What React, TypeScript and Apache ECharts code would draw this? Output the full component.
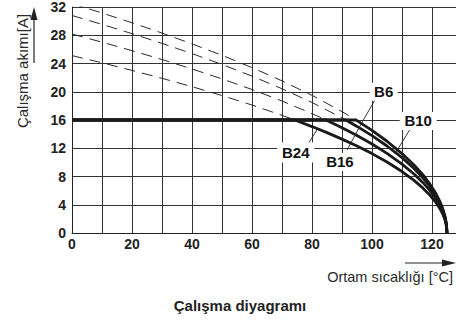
import React, { useEffect, useRef } from "react";
import * as echarts from "echarts";

const FONT = '"Liberation Sans", Arial, Helvetica, sans-serif';

// Rated (capped) operating current [A]
const ratedCurrent = 16;

// Curve B6
const tempB6 = [0, 10, 20, 30, 40, 50, 60, 70, 80, 90, 94.7, 95, 100, 105, 110, 114, 117, 119, 121, 122.5, 123.5, 124.3, 124.8, 125];
const currB6 = [32.48, 31.15, 29.77, 28.31, 26.78, 25.16, 23.42, 21.54, 19.49, 17.19, 16.0, 15.91, 14.53, 12.99, 11.25, 9.64, 8.22, 7.11, 5.81, 4.59, 3.56, 2.43, 1.3, 0];

// Curve B10
const tempB10 = [0, 10, 20, 30, 40, 50, 60, 70, 80, 90, 91.3, 95, 100, 105, 110, 114, 117, 119, 121, 122.5, 123.5, 124.3, 124.8, 125];
const currB10 = [30.8, 29.54, 28.23, 26.85, 25.4, 23.86, 22.21, 20.43, 18.48, 16.3, 16.0, 15.09, 13.78, 12.32, 10.67, 9.14, 7.79, 6.75, 5.51, 4.36, 3.37, 2.31, 1.23, 0];

// Curve B16
const tempB16 = [0, 10, 20, 30, 40, 50, 60, 70, 80, 84.7, 85, 90, 95, 100, 105, 110, 114, 117, 119, 121, 122.5, 123.5, 124.3, 124.8, 125];
const currB16 = [28.17, 27.02, 25.82, 24.56, 23.23, 21.82, 20.32, 18.69, 16.9, 16.0, 15.94, 14.91, 13.8, 12.6, 11.27, 9.76, 8.36, 7.13, 6.17, 5.04, 3.98, 3.09, 2.11, 1.13, 0];

// Curve B24
const tempB24 = [0, 10, 20, 30, 40, 50, 60, 70, 74.3, 80, 85, 90, 95, 100, 105, 110, 114, 117, 119, 121, 122.5, 123.5, 124.3, 124.8, 125];
const currB24 = [25.12, 24.1, 23.02, 21.9, 20.72, 19.46, 18.12, 16.66, 16.0, 15.07, 14.21, 13.29, 12.31, 11.24, 10.05, 8.7, 7.45, 6.35, 5.5, 4.49, 3.55, 2.75, 1.88, 1.0, 0];

const curveNames = ["B6", "B10", "B16", "B24"];
const curveTemps = [tempB6, tempB10, tempB16, tempB24];
const curveCurrents = [currB6, currB10, currB16, currB24];

// Label anchors (data coordinates: [°C, A])
const labelAnchors = [
  [103.9, 20.0],
  [115.4, 15.87],
  [89.3, 10.06],
  [74.6, 11.4],
];
// Leader lines (data coordinates)
const leaderLines = [
  [[101.7, 19.36], [96.7, 15.7]],
  [[112.7, 14.7], [108.0, 11.46]],
  [[91.7, 11.75], [96.7, 15.7]],
  [[78.7, 12.6], [82.0, 14.85]],
];

const xTickLabels = [0, 20, 40, 60, 80, 100, 120];

const labelBoxSizes = [
  [28, 18],
  [37, 18],
  [36, 18],
  [37, 20],
];

export default function App() {
  const ref = useRef<HTMLDivElement>(null);

  useEffect(() => {
    if (!ref.current) return;
    const chart = echarts.init(ref.current, undefined, { renderer: "svg" });

    const series: any[] = [];
    curveNames.forEach((name, k) => {
      const pairs = curveTemps[k].map((t, i) => [t, curveCurrents[k][i]]);
      const dashed = pairs.filter((p) => p[1] >= ratedCurrent);
      const solid = pairs.map((p) => [p[0], Math.min(p[1], ratedCurrent)]);
      series.push({
        name: name + "-ext",
        type: "line",
        data: dashed,
        showSymbol: false,
        symbol: "none",
        z: 2,
        lineStyle: { color: "#2a2a2a", width: 1, type: [11, 7] },
        silent: true,
      });
      series.push({
        name,
        type: "line",
        data: solid,
        showSymbol: false,
        symbol: "none",
        z: 3,
        lineStyle: { color: "#1a1a1a", width: 2.8 },
        silent: true,
        markLine: {
          silent: true,
          symbol: ["none", "none"],
          animation: false,
          label: { show: false },
          lineStyle: { color: "#222", width: 0.9, type: "solid" },
          data: [[{ coord: leaderLines[k][0] }, { coord: leaderLines[k][1] }]],
        },
        markPoint: {
          silent: true,
          animation: false,
          symbol: "rect",
          symbolSize: labelBoxSizes[k],
          itemStyle: { color: "#ffffff" },
          label: {
            show: true,
            position: "inside",
            formatter: "{b}",
            color: "#111",
            fontSize: 15,
            fontWeight: "bold",
            fontFamily: FONT,
          },
          data: [{ name, coord: labelAnchors[k], value: 0 }],
        },
      });
    });

    chart.setOption({
      animation: false,
      backgroundColor: "#ffffff",
      grid: { left: 72, right: 0, top: 6, bottom: 87, containLabel: false },
      xAxis: {
        type: "value",
        min: 0,
        max: 128,
        interval: 10,
        axisLine: { show: true, lineStyle: { color: "#222", width: 1 } },
        axisTick: { show: false },
        splitLine: { show: true, lineStyle: { color: "#333", width: 1 } },
        axisLabel: {
          margin: 4,
          color: "#222",
          fontSize: 14,
          fontWeight: "bold",
          fontFamily: FONT,
          showMaxLabel: false,
          formatter: (v: number) => (xTickLabels.indexOf(v) >= 0 ? String(v) : ""),
        },
      },
      yAxis: {
        type: "value",
        min: 0,
        max: 32,
        interval: 4,
        axisLine: { show: true, lineStyle: { color: "#222", width: 1 } },
        axisTick: { show: false },
        splitLine: { show: true, lineStyle: { color: "#333", width: 1 } },
        axisLabel: {
          margin: 6,
          color: "#222",
          fontSize: 14,
          fontWeight: "bold",
          fontFamily: FONT,
        },
      },
      graphic: [
        {
          type: "text",
          x: 22,
          y: 71,
          rotation: Math.PI / 2,
          style: {
            text: "Çalışma akımı[A]",
            fontSize: 15,
            fontFamily: FONT,
            fill: "#2a2a2a",
            align: "center",
            verticalAlign: "middle",
          },
        },
        {
          type: "line",
          shape: { x1: 34, y1: 63, x2: 34, y2: 18 },
          style: { stroke: "#222", lineWidth: 1.2 },
        },
        {
          type: "polygon",
          shape: { points: [[34, 7], [30.5, 20], [37.5, 20]] },
          style: { fill: "#222" },
        },
        {
          type: "text",
          x: 453,
          y: 277,
          style: {
            text: "Ortam sıcaklığı [°C]",
            fontSize: 14.5,
            fontFamily: FONT,
            fill: "#2a2a2a",
            align: "right",
            verticalAlign: "middle",
          },
        },
        {
          type: "line",
          shape: { x1: 405, y1: 263, x2: 443, y2: 263 },
          style: { stroke: "#222", lineWidth: 1.2 },
        },
        {
          type: "polygon",
          shape: { points: [[456, 263], [442, 259.5], [442, 266.5]] },
          style: { fill: "#222" },
        },
        {
          type: "text",
          x: 240,
          y: 305,
          style: {
            text: "Çalışma diyagramı",
            fontSize: 15,
            fontWeight: "bold",
            fontFamily: FONT,
            fill: "#222",
            align: "center",
            verticalAlign: "middle",
          },
        },
      ],
      series,
    });

    return () => {
      chart.dispose();
    };
  }, []);

  return (
    <div
      ref={ref}
      style={{ position: "absolute", left: 0, top: 0, width: 456, height: 320 }}
    />
  );
}
